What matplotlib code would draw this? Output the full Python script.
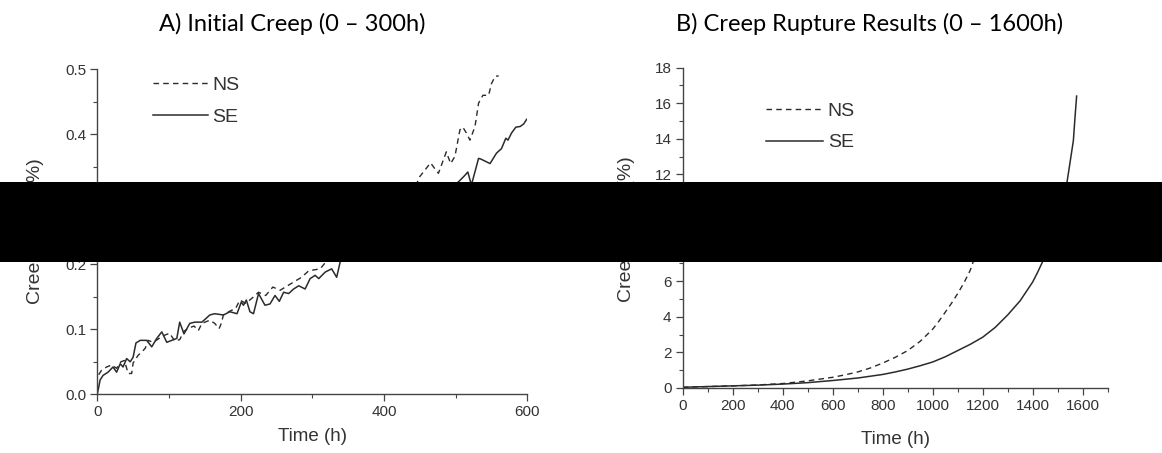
import matplotlib

matplotlib.use("Agg")

import matplotlib.pyplot as plt
from matplotlib.patches import Rectangle
from matplotlib.ticker import MultipleLocator

# A) initial creep (middle part is covered)
ns_a_time = [2, 6, 13, 20, 27, 33, 38, 43, 48, 50, 57, 63, 67, 71, 78, 85, 92, 101,
             108, 115, 121, 128, 135, 141, 146, 157, 164, 170, 173, 176, 185, 193,
             199, 207, 215, 225, 235, 245, 255, 270, 285, 295, 311, 320, 340, 360,
             380, 400, 420, 440, 450, 465, 471, 476, 487, 493, 499, 506, 510, 515,
             520, 527, 532, 538, 546, 550, 555, 560]
ns_a_creep = [0.030, 0.037, 0.042, 0.045, 0.040, 0.050, 0.052, 0.032, 0.032, 0.048,
              0.060, 0.066, 0.071, 0.083, 0.080, 0.085, 0.090, 0.094, 0.082, 0.084,
              0.097, 0.102, 0.105, 0.098, 0.109, 0.114, 0.109, 0.101, 0.109, 0.122,
              0.128, 0.132, 0.145, 0.140, 0.147, 0.157, 0.152, 0.165, 0.160, 0.170,
              0.180, 0.190, 0.193, 0.205, 0.215, 0.232, 0.250, 0.270, 0.290, 0.310,
              0.335, 0.356, 0.347, 0.340, 0.373, 0.355, 0.366, 0.407, 0.411, 0.402,
              0.391, 0.412, 0.448, 0.460, 0.460, 0.478, 0.489, 0.490]

se_a_time = [0, 4, 8, 15, 22, 27, 32, 36, 41, 46, 50, 54, 60, 69, 76, 83, 90, 97,
             104, 111, 115, 121, 129, 136, 146, 157, 164, 176, 185, 195, 201, 204,
             208, 213, 218, 225, 229, 234, 241, 248, 254, 260, 267, 274, 281, 290,
             297, 304, 309, 318, 327, 334, 339, 360, 380, 400, 420, 440, 460, 480,
             495, 506, 513, 517, 522, 532, 535, 548, 557, 564, 570, 573, 578, 584,
             590, 595, 599]
se_a_creep = [0.000, 0.022, 0.029, 0.034, 0.042, 0.034, 0.047, 0.042, 0.055, 0.050,
              0.057, 0.079, 0.083, 0.083, 0.073, 0.086, 0.096, 0.080, 0.083, 0.086,
              0.111, 0.093, 0.109, 0.111, 0.111, 0.122, 0.124, 0.122, 0.127, 0.124,
              0.142, 0.137, 0.145, 0.127, 0.124, 0.155, 0.147, 0.137, 0.139, 0.152,
              0.143, 0.157, 0.155, 0.162, 0.167, 0.162, 0.178, 0.183, 0.178, 0.188,
              0.193, 0.180, 0.204, 0.215, 0.228, 0.240, 0.255, 0.270, 0.290, 0.305,
              0.318, 0.329, 0.337, 0.342, 0.322, 0.363, 0.362, 0.355, 0.371, 0.378,
              0.394, 0.391, 0.402, 0.411, 0.412, 0.416, 0.423]

# B) creep rupture
ns_b_time = [0, 100, 200, 300, 400, 500, 600, 650, 700, 750, 800, 850, 900, 950,
             1000, 1025, 1050, 1075, 1100, 1125, 1150, 1180, 1210]
ns_b_creep = [0.04, 0.08, 0.12, 0.17, 0.25, 0.40, 0.60, 0.74, 0.90, 1.12, 1.40,
              1.72, 2.10, 2.62, 3.30, 3.75, 4.25, 4.75, 5.30, 5.90, 6.60, 7.80, 9.50]

se_b_time = [0, 100, 200, 300, 400, 500, 600, 700, 800, 850, 900, 950, 1000, 1050,
             1100, 1150, 1200, 1250, 1300, 1350, 1400, 1420, 1440, 1480, 1510, 1538,
             1563, 1569, 1576]
se_b_creep = [0.04, 0.08, 0.12, 0.16, 0.22, 0.30, 0.42, 0.56, 0.76, 0.90, 1.06,
              1.25, 1.46, 1.75, 2.10, 2.45, 2.85, 3.40, 4.10, 4.90, 5.95, 6.50, 7.10,
              8.60, 10.00, 11.60, 13.90, 15.10, 16.40]

LINE = "#2b2b2b"
TEXT = "#333333"

plt.rcParams["font.family"] = ["Liberation Sans", "DejaVu Sans"]

fig = plt.figure(figsize=(11.62, 4.53), dpi=100)
ax_a = fig.add_axes([0.0837, 0.1296, 0.3701, 0.7174])
ax_b = fig.add_axes([0.5875, 0.1435, 0.3657, 0.7073])


def style(ax, xmax, ymax, xmaj, xmin, ymaj, ymin):
    ax.set_xlim(0, xmax)
    ax.set_ylim(0, ymax)
    ax.xaxis.set_major_locator(MultipleLocator(xmaj))
    ax.xaxis.set_minor_locator(MultipleLocator(xmin))
    ax.yaxis.set_major_locator(MultipleLocator(ymaj))
    ax.yaxis.set_minor_locator(MultipleLocator(ymin))
    for side in ("top", "right"):
        ax.spines[side].set_visible(False)
    for side in ("left", "bottom"):
        ax.spines[side].set_color("#444444")
        ax.spines[side].set_linewidth(1.0)
    ax.tick_params(which="major", direction="out", length=5, width=0.9,
                   color="#444444", labelsize=11, labelcolor=TEXT, pad=3)
    ax.tick_params(which="minor", direction="out", length=3, width=0.8,
                   color="#444444")


style(ax_a, 600, 0.5, 200, 100, 0.1, 0.05)
style(ax_b, 1700, 18, 200, 100, 2, 1)

for ax, ns_t, ns_y, se_t, se_y in [
    (ax_a, ns_a_time, ns_a_creep, se_a_time, se_a_creep),
    (ax_b, ns_b_time, ns_b_creep, se_b_time, se_b_creep),
]:
    ax.plot(ns_t, ns_y, color=LINE, lw=1.0, dashes=(4, 3), label="NS")
    ax.plot(se_t, se_y, color=LINE, lw=1.1, label="SE")

ax_a.legend(loc="upper left", bbox_to_anchor=(0.13, 0.978), frameon=False,
            fontsize=14, handlelength=2.8, handletextpad=0.25, labelspacing=0.74,
            borderpad=0, borderaxespad=0, labelcolor=TEXT)
ax_b.legend(loc="upper left", bbox_to_anchor=(0.197, 0.891), frameon=False,
            fontsize=14, handlelength=2.9, handletextpad=0.25, labelspacing=0.7,
            borderpad=0, borderaxespad=0, labelcolor=TEXT)

for ax, ylab_y in [(ax_a, -0.131), (ax_b, -0.162)]:
    ax.set_xlabel("Time (h)", fontsize=13.5, color=TEXT)
    ax.xaxis.set_label_coords(0.5, ylab_y)
    ax.xaxis.label.set_va("center")

fig.text(0.0305, 0.49, "Creep Strain (%)", rotation=90, ha="center", va="center",
         fontsize=14, color=TEXT)
fig.text(0.539, 0.4945, "Creep Strain (%)", rotation=90, ha="center", va="center",
         fontsize=14, color=TEXT)

title_font = ["Lato", "DejaVu Sans"]
fig.text(0.2513, 0.947, "A) Initial Creep (0 \u2013 300h)", ha="center", va="center",
         fontsize=17, family=title_font, color="black")
fig.text(0.7487, 0.947, "B) Creep Rupture Results (0 \u2013 1600h)", ha="center",
         va="center", fontsize=17, family=title_font, color="black")

# redaction band across the middle of the picture
fig.add_artist(Rectangle((0, 1 - 262 / 453), 1, 80.3 / 453, transform=fig.transFigure,
                         facecolor="black", edgecolor="none", zorder=10))

fig.savefig("out.png", dpi=100)
